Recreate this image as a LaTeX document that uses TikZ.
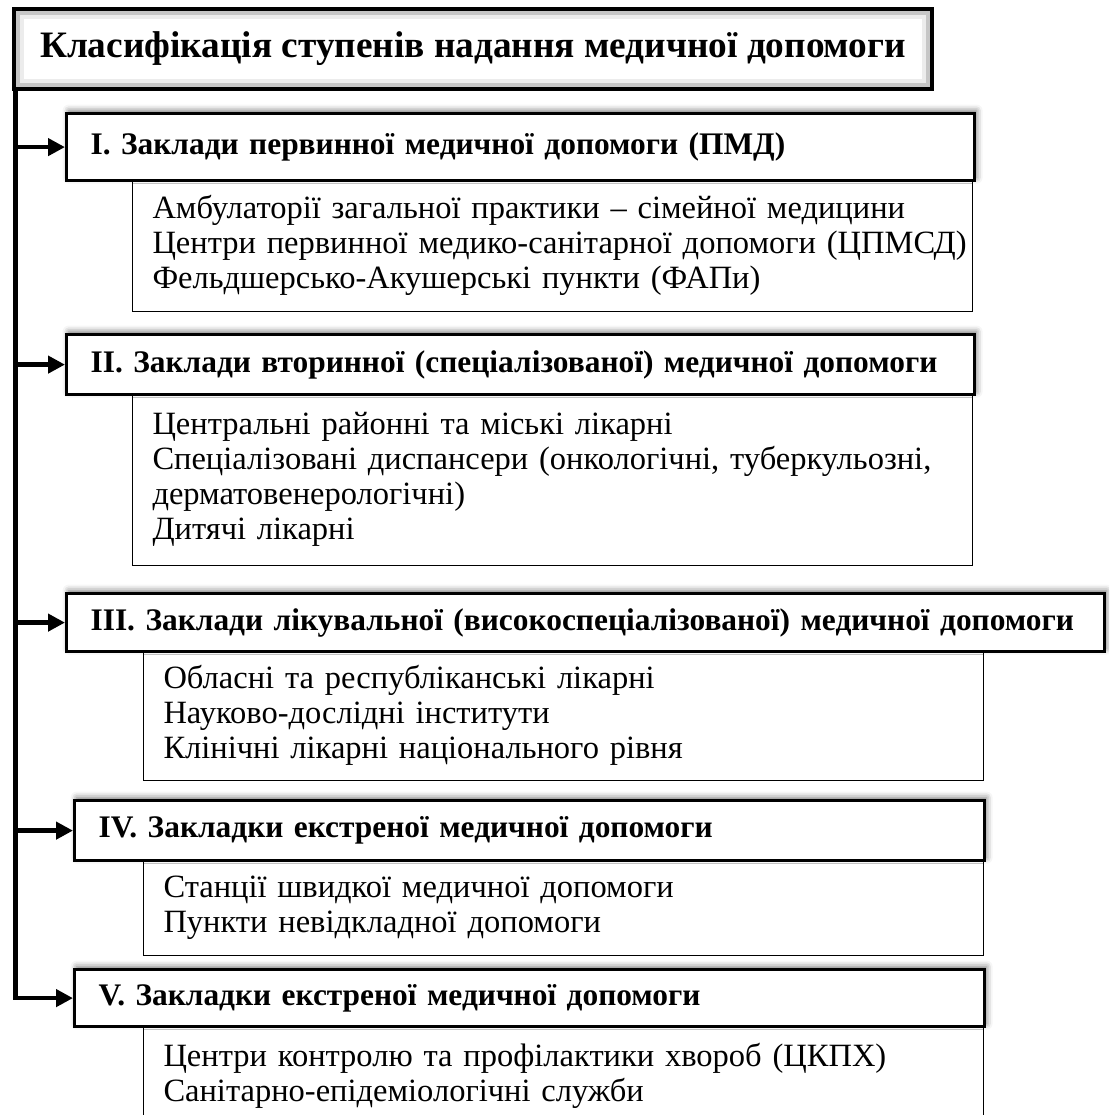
\documentclass[tikz,border=0pt]{standalone}
\usepackage{fontspec}
\setmainfont{Liberation Serif}
\usetikzlibrary{arrows.meta,shadows.blur}

\tikzset{
  head/.style={draw,line width=3.2pt,fill=white,anchor=north west,
    inner xsep=24pt,inner ysep=0pt,align=left,
    font=\bfseries\fontsize{31.4}{36}\selectfont,
    blur shadow={shadow xshift=2pt,shadow yshift=3pt,shadow blur radius=6pt,shadow opacity=55}},
  sub/.style={draw,line width=1pt,fill=white,anchor=north west,
    inner xsep=20pt,inner ysep=0pt,align=left,
    font=\fontsize{32.5}{35}\selectfont},
  arrow/.style={line width=4.5pt,-{Triangle[length=17pt,width=17pt]}}
}

\begin{document}
\begin{tikzpicture}[x=1pt,y=-1pt]

% Page
\useasboundingbox (0,0) rectangle (1109,1115);
\clip (0,0) rectangle (1109,1115);

% Title
\fill[gray!45] (16,11) rectangle (930,87);
\fill[gray!15] (20,15) rectangle (926,83);
\fill[white] (24,19) rectangle (922,79);
\draw[line width=4pt] (14,9) rectangle (932,89);
\node[font=\bfseries\fontsize{37.3}{42}\selectfont] (title) at (473,49)
  {Класифікація ступенів надання медичної допомоги};
\coordinate (top) at (15.5,89);

% Lists
\node[sub,minimum height=132pt,text width=800pt] (s1) at (132,179)
  {Амбулаторії загальної практики -- сімейної медицини\\
   \mbox{Центри первинної медико-санітарної допомоги (ЦПМСД)}\\
   Фельдшерсько-Акушерські пункти (ФАПи)};
\node[sub,minimum height=172pt,text width=800pt] (s2) at (132,393)
  {Центральні районні та міські лікарні\\
   Спеціалізовані диспансери (онкологічні, туберкульозні,\\
   дерматовенерологічні)\\
   Дитячі лікарні};
\node[sub,minimum height=130pt,text width=800pt] (s3) at (143,650)
  {Обласні та республіканські лікарні\\
   Науково-дослідні інститути\\
   Клінічні лікарні національного рівня};
\node[sub,minimum height=96pt,text width=800pt] (s4) at (143,859)
  {Станції швидкої медичної допомоги\\
   Пункти невідкладної допомоги};
\node[sub,minimum height=100pt,text width=800pt] (s5) at (143,1025)
  {Центри контролю та профілактики хвороб (ЦКПХ)\\
   Санітарно-епідеміологічні служби};

% Levels
\node[head,minimum height=67pt,text width=860pt] (h1) at (65,112)
  {I. Заклади первинної медичної допомоги (ПМД)};
\node[head,minimum height=60pt,text width=860pt] (h2) at (65,333)
  {II. Заклади вторинної (спеціалізованої) медичної допомоги};
\node[head,minimum height=58pt,text width=990pt] (h3) at (65,592)
  {III. Заклади лікувальної (високоспеціалізованої) медичної допомоги};
\node[head,minimum height=60pt,text width=862pt] (h4) at (73,799)
  {IV. Закладки екстреної медичної допомоги};
\node[head,minimum height=57pt,text width=862pt] (h5) at (73,968)
  {V. Закладки екстреної медичної допомоги};

% Arrows
\draw[arrow] (top) |- (h5.west);
\foreach \h in {h1,h2,h3,h4}
  \draw[arrow] (top |- \h.west) -- (\h.west);

\end{tikzpicture}
\end{document}
